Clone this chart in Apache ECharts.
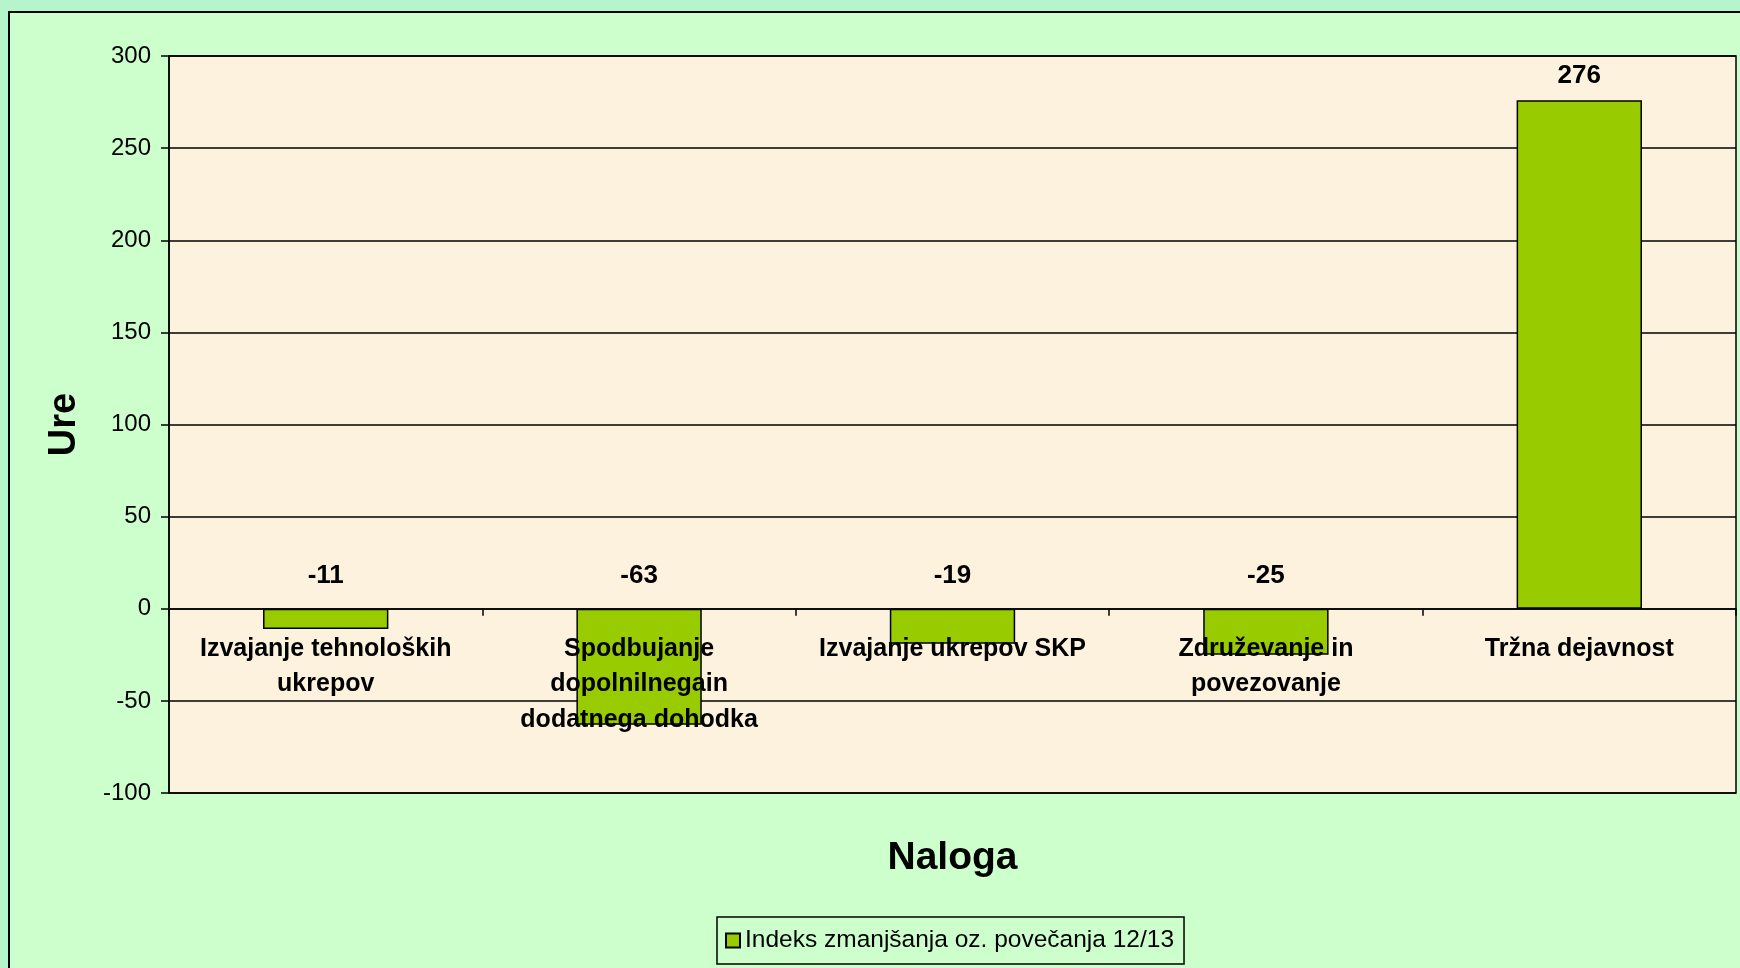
<!DOCTYPE html>
<html>
<head>
<meta charset="utf-8">
<script src="https://cdn.jsdelivr.net/npm/echarts@6/dist/echarts.min.js"></script>
<style>
html,body{margin:0;padding:0;background:#b6f5cc;}
#c{width:1740px;height:968px;}
</style>
</head>
<body>
<div id="c"></div>
<script>
const categories = [
  "Izvajanje tehnoloških\nukrepov",
  "Spodbujanje\ndopolnilnegain\ndodatnega dohodka",
  "Izvajanje ukrepov SKP",
  "Združevanje in\npovezovanje",
  "Tržna dejavnost"
];
const seriesName = "Indeks zmanjšanja oz. povečanja 12/13";
const values = [-11, -63, -19, -25, 276];
const yTicks = { min: -100, max: 300, interval: 50 };

const chart = echarts.init(document.getElementById('c'), null, {renderer: 'canvas'});
const sans = "'Liberation Sans', Arial, sans-serif";

const barData = values.map(v => ({
  value: v,
  label: {distance: v < 0 ? 20 : 11}
}));

chart.setOption({
  backgroundColor: '#b6f5cc',
  animation: false,
  graphic: {
    z: -100,
    elements: [{
      type: 'rect',
      z: -100,
      shape: {x: 9, y: 12, width: 1760, height: 1000},
      style: {fill: '#ccffcc', stroke: '#000', lineWidth: 2}
    }]
  },
  grid: {
    left: 169, right: 4, top: 56, bottom: 175,
    containLabel: false,
    outerBoundsMode: 'none',
    show: true,
    backgroundColor: '#fcf2dd',
    borderColor: '#000',
    borderWidth: 1.5
  },
  legend: {
    data: [seriesName],
    left: 717, top: 917,
    backgroundColor: '#ccffcc',
    borderColor: '#000',
    borderWidth: 1.5,
    borderRadius: 0,
    padding: [11, 10, 11, 8],
    icon: 'rect',
    itemWidth: 14, itemHeight: 14,
    itemGap: 6,
    textStyle: {fontFamily: sans, fontSize: 24.5, color: '#000'}
  },
  xAxis: {
    type: 'category',
    data: categories,
    z: 5,
    name: 'Naloga',
    nameLocation: 'middle',
    nameGap: 46,
    nameTextStyle: {fontFamily: sans, fontSize: 39, fontWeight: 'bold', color: '#000'},
    axisLine: {onZero: true, lineStyle: {color: '#000', width: 1.5}},
    axisTick: {show: true, length: 7, interval: 0, lineStyle: {color: '#000', width: 1.5}},
    axisLabel: {
      interval: 0,
      margin: -162,
      fontFamily: sans,
      fontSize: 25,
      fontWeight: 'bold',
      color: '#000',
      lineHeight: 35.5
    }
  },
  yAxis: {
    type: 'value',
    min: yTicks.min, max: yTicks.max, interval: yTicks.interval,
    name: 'Ure',
    nameLocation: 'middle',
    nameRotate: 90,
    nameGap: 85,
    nameTextStyle: {fontFamily: sans, fontSize: 38, fontWeight: 'bold', color: '#000'},
    axisLine: {show: true, lineStyle: {color: '#000', width: 1.5}},
    axisTick: {show: true, length: 8, lineStyle: {color: '#000', width: 1.5}},
    axisLabel: {fontFamily: sans, fontSize: 24, color: '#000', margin: 18},
    splitLine: {show: true, lineStyle: {color: '#000', width: 1.5}}
  },
  series: [{
    name: seriesName,
    type: 'bar',
    data: barData,
    barWidth: '40%',
    itemStyle: {color: '#99cc00', borderColor: '#000', borderWidth: 1.5},
    label: {
      show: true,
      position: 'top',
      fontFamily: sans,
      fontSize: 26,
      fontWeight: 'bold',
      color: '#000'
    }
  }]
});
</script>
</body>
</html>
